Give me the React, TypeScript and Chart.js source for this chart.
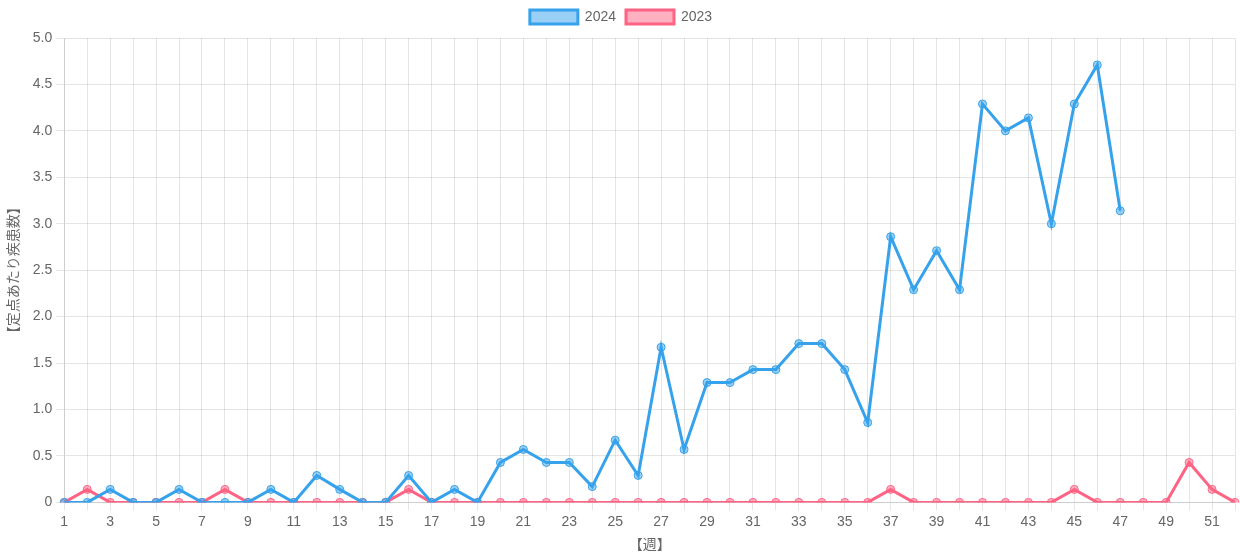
import React, { useEffect, useRef } from "react";
import { Chart, registerables } from "chart.js";

Chart.register(...registerables);

const weeks: string[] = Array.from({ length: 52 }, (_, i) => String(i + 1));

const data2024: (number | null)[] = [
  0, 0, 0.14, 0, 0, 0.14, 0, 0, 0, 0.14,
  0, 0.29, 0.14, 0, 0, 0.29, 0, 0.14, 0, 0.43,
  0.57, 0.43, 0.43, 0.17, 0.67, 0.29, 1.67, 0.57, 1.29, 1.29,
  1.43, 1.43, 1.71, 1.71, 1.43, 0.86, 2.86, 2.29, 2.71, 2.29,
  4.29, 4.0, 4.14, 3.0, 4.29, 4.71, 3.14, null, null, null,
  null, null,
];

const data2023: number[] = [
  0, 0.14, 0, 0, 0, 0, 0, 0.14, 0, 0,
  0, 0, 0, 0, 0, 0.14, 0, 0, 0, 0,
  0, 0, 0, 0, 0, 0, 0, 0, 0, 0,
  0, 0, 0, 0, 0, 0, 0.14, 0, 0, 0,
  0, 0, 0, 0, 0.14, 0, 0, 0, 0, 0.43,
  0.14, 0,
];

const yTitle = "【定点あたり疾患数】";
const xTitle = "【週】";

const legendSpacer = {
  id: "legendSpacer",
  beforeInit(chart: any) {
    const legend = chart.legend;
    if (!legend) return;
    const origFit = legend.fit;
    legend.fit = function () {
      origFit.call(this);
      this.height += 4;
    };
  },
};

export default function App() {
  const ref = useRef<HTMLCanvasElement | null>(null);
  useEffect(() => {
    if (!ref.current) return;
    Chart.defaults.font.family = "'Liberation Sans', Arial, 'Noto Sans CJK JP', sans-serif";
    Chart.defaults.font.size = 14;
    Chart.defaults.color = "#666";
    const chart = new Chart(ref.current, {
      type: "line",
      data: {
        labels: weeks,
        datasets: [
          {
            label: "2024",
            data: data2024,
            borderColor: "rgb(54, 162, 235)",
            backgroundColor: "rgba(54, 162, 235, 0.5)",
            borderWidth: 3,
            pointRadius: 4,
            pointBorderWidth: 1,
            tension: 0,
          },
          {
            label: "2023",
            data: data2023,
            borderColor: "rgb(255, 99, 132)",
            backgroundColor: "rgba(255, 99, 132, 0.5)",
            borderWidth: 3,
            pointRadius: 4,
            pointBorderWidth: 1,
            tension: 0,
          },
        ],
      },
      plugins: [legendSpacer],
      options: {
        animation: false,
        responsive: true,
        maintainAspectRatio: false,
        layout: { padding: { right: -2 } },
        plugins: {
          legend: {
            position: "top",
            labels: { boxWidth: 48, boxHeight: 14 },
          },
          tooltip: { enabled: false },
        },
        scales: {
          x: {
            title: { display: true, text: xTitle },
            ticks: {
              autoSkip: false,
              maxRotation: 0,
              callback: function (this: any, _v: any, i: number) {
                return i % 2 === 0 ? weeks[i] : "";
              },
            },
            grid: { color: "rgba(0,0,0,0.1)" },
          },
          y: {
            min: 0,
            max: 5,
            title: { display: true, text: yTitle, padding: { top: 6, bottom: 6 } },
            ticks: {
              stepSize: 0.5,
              padding: 4,
              callback: (v: any) => (Number(v) === 0 ? "0" : Number(v).toFixed(1)),
            },
            grid: { color: "rgba(0,0,0,0.1)" },
          },
        },
      },
    });
    return () => chart.destroy();
  }, []);
  return (
    <div style={{ position: "absolute", left: 0, top: 0, width: 1240, height: 558 }}>
      <canvas ref={ref} />
    </div>
  );
}
